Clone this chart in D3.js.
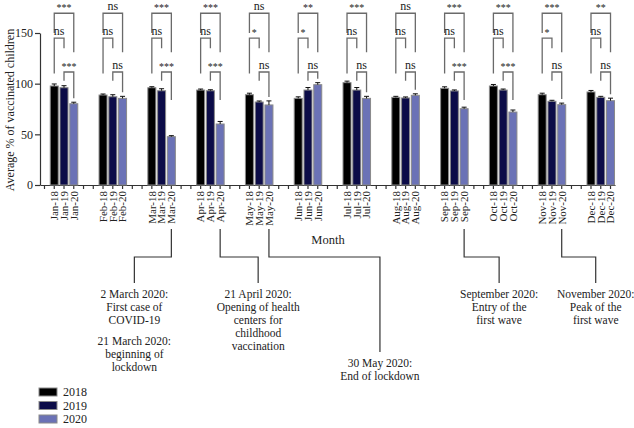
<!DOCTYPE html>
<html>
<head>
<meta charset="utf-8">
<script src="https://cdn.jsdelivr.net/npm/d3@7"></script>
<style>
  body { margin: 0; background: #fff; }
  svg { font-family: "Liberation Serif", "Times New Roman", serif; }
  .axis path, .axis line { stroke: #333; stroke-width: 1.2; }
  .axis text { font-family: "Liberation Serif", serif; fill: #222; }
</style>
</head>
<body>
<svg width="634" height="428"></svg>
<script>
// data
var months = ["Jan", "Feb", "Mar", "Apr", "May", "Jun", "Jul", "Aug", "Sep", "Oct", "Nov", "Dec"];
var years = ["18", "19", "20"];
var seriesNames = ["2018", "2019", "2020"];

var v2018 = [97.7, 88.8, 96.0, 93.7, 89.1, 85.5, 101.0, 86.5, 95.4, 97.7, 89.1, 91.8];
var v2019 = [96.0, 87.1, 93.0, 93.0, 81.9, 93.7, 93.7, 85.9, 92.8, 93.7, 82.6, 86.5];
var v2020 = [80.2, 85.5, 47.7, 60.2, 79.0, 99.0, 85.5, 88.5, 75.3, 72.0, 79.3, 83.2];

var e2018 = [2.0, 1.0, 1.0, 1.0, 1.5, 1.5, 1.5, 1.0, 1.5, 1.5, 1.5, 1.5];
var e2019 = [2.0, 2.0, 2.0, 1.0, 1.0, 2.5, 2.5, 1.0, 1.0, 1.0, 1.0, 1.0];
var e2020 = [1.5, 2.0, 1.0, 2.5, 4.0, 2.0, 2.0, 1.5, 1.5, 2.0, 1.5, 2.5];

// significance labels: 2018 vs 2020, 2018 vs 2019, 2019 vs 2020
var sig1820 = ["***", "ns", "***", "***", "ns", "**", "***", "ns", "***", "***", "***", "**"];
var sig1819 = ["ns", "ns", "ns", "ns", "*", "*", "ns", "ns", "ns", "ns", "*", "ns"];
var sig1920 = ["***", "ns", "***", "***", "ns", "ns", "ns", "ns", "***", "***", "ns", "ns"];

var yTicks = [0, 50, 100, 150];

var annotations = [
    { month: 2, lines: ["2 March 2020:", "First case of", "COVID-19", "", "21 March 2020:", "beginning of", "lockdown"] },
    { month: 3, lines: ["21 April 2020:", "Opening of health", "centers for", "childhood", "vaccination"] },
    { month: 4, lines: ["30 May 2020:", "End of lockdown"] },
    { month: 8, lines: ["September 2020:", "Entry of the", "first wave"] },
    { month: 10, lines: ["November 2020:", "Peak of the", "first wave"] }
];

var colors = ["#000000", "#0c0c48", "#6b72b6"];
var values = [v2018, v2019, v2020];
var errors = [e2018, e2019, e2020];

// one slot per bar, 2 empty slots between months, 1 leading
var nSlots = 59;
function slot(m, s) { return 1 + m * 5 + s; }

var slotLabels = d3.range(nSlots).map(function () { return ""; });
months.forEach(function (m, i) {
    years.forEach(function (yr, s) { slotLabels[slot(i, s)] = m + "-" + yr; });
});

var bars = [];
months.forEach(function (m, i) {
    seriesNames.forEach(function (sn, s) {
        bars.push({ m: i, s: s, value: values[s][i], err: errors[s][i] });
    });
});

var svg = d3.select("svg");

var x = d3.scaleBand().domain(d3.range(nSlots)).range([40, 615]).paddingInner(0.18).paddingOuter(0.05);
var y = d3.scaleLinear().domain([0, 150]).range([185, 33]);

function cx(m, s) { return x(slot(m, s)) + x.bandwidth() / 2; }

// axes
var xAxis = svg.append("g")
    .attr("class", "axis")
    .attr("transform", "translate(0,185)")
    .call(d3.axisBottom(x).tickSize(4).tickSizeOuter(0).tickFormat(function (d) { return slotLabels[d]; }));
xAxis.selectAll("text")
    .attr("transform", "rotate(-90)")
    .attr("text-anchor", "end")
    .attr("x", -6)
    .attr("y", 0)
    .attr("dy", "0.35em")
    .style("font-size", "11px");

var yAxis = svg.append("g")
    .attr("class", "axis")
    .attr("transform", "translate(40,0)")
    .call(d3.axisLeft(y).tickValues(yTicks).tickSize(5).tickSizeOuter(0));
yAxis.selectAll("text").style("font-size", "12px").attr("x", -7);

svg.append("text")
    .attr("transform", "translate(14,110) rotate(-90)")
    .attr("text-anchor", "middle")
    .style("font-size", "12px")
    .attr("fill", "#222")
    .text("Average % of vaccinated children");

svg.append("text")
    .attr("x", 328).attr("y", 244)
    .attr("text-anchor", "middle")
    .style("font-size", "12.5px")
    .attr("fill", "#222")
    .text("Month");

// bars
svg.selectAll(".bar")
    .data(bars)
    .enter().append("rect")
    .attr("class", "bar")
    .attr("x", function (d) { return x(slot(d.m, d.s)); })
    .attr("width", x.bandwidth())
    .attr("y", function (d) { return y(d.value); })
    .attr("height", function (d) { return y(0) - y(d.value); })
    .attr("fill", function (d) { return colors[d.s]; })
    .attr("stroke", "#8a8a8a")
    .attr("stroke-width", 1);

// error bars (upper only)
var eb = svg.selectAll(".err").data(bars).enter().append("g").attr("class", "err")
    .attr("stroke", "#111").attr("stroke-width", 1);
eb.append("line")
    .attr("x1", function (d) { return cx(d.m, d.s); })
    .attr("x2", function (d) { return cx(d.m, d.s); })
    .attr("y1", function (d) { return y(d.value); })
    .attr("y2", function (d) { return y(d.value + d.err); });
eb.append("line")
    .attr("x1", function (d) { return cx(d.m, d.s) - 2.5; })
    .attr("x2", function (d) { return cx(d.m, d.s) + 2.5; })
    .attr("y1", function (d) { return y(d.value + d.err); })
    .attr("y2", function (d) { return y(d.value + d.err); });

// significance brackets: level / leg bottoms in data units
var bracketSpecs = [
    { a: 0, b: 2, top: 169.5, left: 150, right: 131, labels: sig1820 },
    { a: 0, b: 1, top: 145, left: 110, right: 135, labels: sig1819 },
    { a: 1, b: 2, top: 111.5, left: 103, right: 84, labels: sig1920 }
];

var brackets = [];
months.forEach(function (m, i) {
    bracketSpecs.forEach(function (b) {
        brackets.push({ m: i, spec: b });
    });
});

function legBottom(level, m, s) {
    var top = y(values[s][m] + errors[s][m]) - 4;
    return Math.min(y(level), top);
}

var br = svg.selectAll(".bracket").data(brackets).enter().append("g").attr("class", "bracket");
br.append("path")
    .attr("fill", "none")
    .attr("stroke", "#6a6a6a")
    .attr("stroke-width", 1.3)
    .attr("d", function (d) {
        var x1 = cx(d.m, d.spec.a), x2 = cx(d.m, d.spec.b), yt = y(d.spec.top);
        return "M" + x1 + "," + legBottom(d.spec.left, d.m, d.spec.a) +
            "V" + yt + "H" + x2 + "V" + legBottom(d.spec.right, d.m, d.spec.b);
    });
br.append("text")
    .attr("x", function (d) { return (cx(d.m, d.spec.a) + cx(d.m, d.spec.b)) / 2; })
    .attr("y", function (d) { var l = d.spec.labels[d.m]; return y(d.spec.top) - (l === "ns" ? 3 : 2); })
    .attr("text-anchor", "middle")
    .attr("fill", "#222")
    .style("font-size", function (d) { return d.spec.labels[d.m] === "ns" ? "12px" : "10px"; })
    .text(function (d) { return d.spec.labels[d.m]; });

// event annotations hanging below the 2020 labels
var annoLayout = { 2: { dx: -37, drop: 283 }, 3: { dx: 38, drop: 283 }, 4: { dx: 111, drop: 352 }, 8: { dx: 35, drop: 283 }, 10: { dx: 34, drop: 283 } };

annotations.forEach(function (a) {
    var lay = annoLayout[a.month];
    var x0 = cx(a.month, 2), x1 = x0 + lay.dx;
    svg.append("path")
        .attr("fill", "none")
        .attr("stroke", "#333")
        .attr("stroke-width", 1.2)
        .attr("d", "M" + x0 + ",229V257H" + x1 + "V" + lay.drop);
    var ty = lay.drop + 15;
    a.lines.forEach(function (line) {
        if (line === "") { ty += 8; return; }
        svg.append("text")
            .attr("x", x1).attr("y", ty)
            .attr("text-anchor", "middle")
            .attr("fill", "#222")
            .style("font-size", "11.5px")
            .text(line);
        ty += 13;
    });
});

// legend
var leg = svg.selectAll(".legend").data(seriesNames).enter().append("g")
    .attr("class", "legend")
    .attr("transform", function (d, i) { return "translate(39," + (388 + i * 13.5) + ")"; });
leg.append("rect")
    .attr("width", 18).attr("height", 8)
    .attr("fill", function (d, i) { return colors[i]; })
    .attr("stroke", "#8a8a8a");
leg.append("text")
    .attr("x", 24).attr("y", 8)
    .attr("fill", "#222")
    .style("font-size", "12px")
    .text(function (d) { return d; });
</script>
</body>
</html>
